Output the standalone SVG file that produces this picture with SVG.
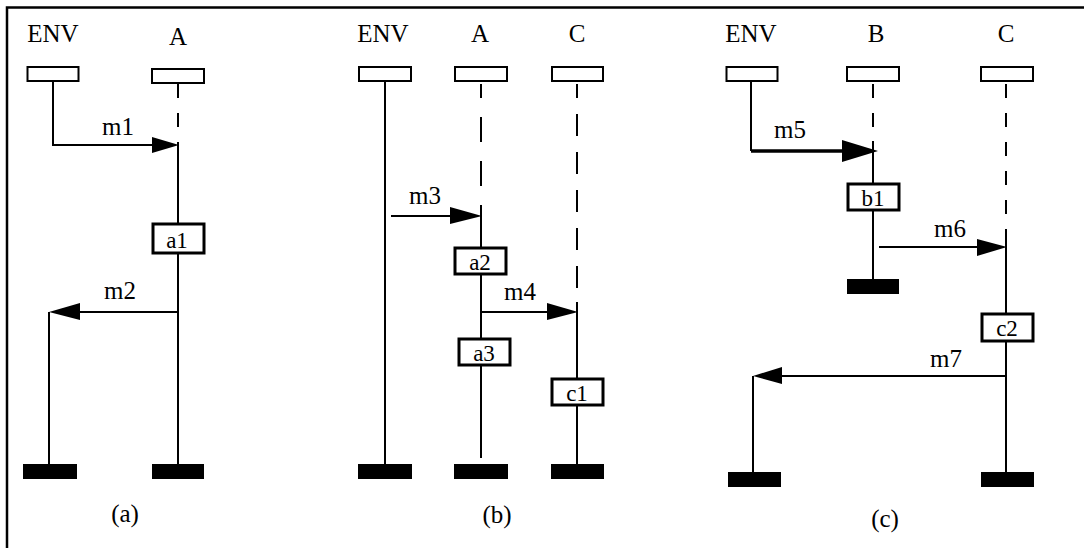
<svg xmlns="http://www.w3.org/2000/svg" width="1084" height="548" viewBox="0 0 1084 548" font-family="Liberation Serif, Times New Roman, serif">
<style>
text{font-size:25px;fill:#000;text-anchor:middle}
.bl{font-size:23px}
.hdr{fill:#fff;stroke:#000;stroke-width:2}
.act{fill:#fff;stroke:#000;stroke-width:3}
.bar{fill:#000;stroke:none}
.ln{fill:none;stroke:#000;stroke-width:2}
.dash{fill:none;stroke:#000;stroke-width:2;stroke-dasharray:14 15}
.thick{fill:none;stroke:#000;stroke-width:3.5}
.head{fill:#000;stroke:none}
.frame{fill:none;stroke:#000;stroke-width:2.5}
</style>
<rect width="1084" height="548" fill="#fff"/>
<path class="frame" d="M7,548 V7.5 H1084"/>

<g id="connectors">
<path class="ln" d="M53,81 V145 H170"/>
<polygon class="head" points="152,137 179,145 152,153"/>
<path class="dash" d="M178,84 V145"/>
<path class="ln" d="M178,145 V223 M178,254 V464"/>
<path class="ln" d="M178,312 H70 M49,312 V464"/>
<polygon class="head" points="49,312 80,303 80,320"/>
<path class="ln" d="M385,81 V464"/>
<path class="dash" d="M481,84 V216" style="stroke-dasharray:25 19;stroke-dashoffset:11"/>
<path class="ln" d="M481,216 V247 M481,274 V338 M481,365 V458"/>
<path class="dash" d="M577,84 V302" style="stroke-dasharray:22 16;stroke-dashoffset:8"/>
<path class="ln" d="M577,302 V378 M577,405 V464"/>
<path class="ln" d="M391,216 H460"/>
<polygon class="head" points="450,207 482,216 450,224"/>
<path class="ln" d="M481,312 H555"/>
<polygon class="head" points="547,303 578,312 547,320"/>
<path class="ln" d="M751,78 V151"/>
<path class="thick" d="M751,151 H850"/>
<polygon class="head" points="842,140 878,151 842,162"/>
<path class="dash" d="M873,84 V141"/>
<path class="ln" d="M873,141 V183 M873,210 V279"/>
<path class="dash" d="M1006,84 V237"/>
<path class="ln" d="M1006,237 V313 M1006,342 V472"/>
<path class="ln" d="M879,247 H985"/>
<polygon class="head" points="977,239 1007,247 977,256"/>
<path class="ln" d="M1006,376 H775 M753,376 V472"/>
<polygon class="head" points="753,376 782,367 782,384"/>
</g>

<g id="diagram-a">
<g id="a-env"><text x="53" y="42">ENV</text><rect class="hdr" x="27.5" y="67" width="51" height="14"/><rect class="bar" x="23" y="464" width="54" height="15"/></g>
<g id="a-A"><text x="178" y="45">A</text><rect class="hdr" x="152" y="69" width="52" height="14"/><rect class="bar" x="152" y="464" width="52" height="15"/></g>
<g id="a-a1"><rect class="act" x="153" y="224" width="51" height="29"/><text class="bl" x="177" y="248">a1</text></g>
<text x="118" y="135">m1</text>
<text x="120" y="299">m2</text>
<text x="125" y="522">(a)</text>
</g>

<g id="diagram-b">
<g id="b-env"><text x="383" y="42">ENV</text><rect class="hdr" x="359" y="67" width="52" height="14"/><rect class="bar" x="358" y="464" width="54" height="15"/></g>
<g id="b-A"><text x="480" y="42">A</text><rect class="hdr" x="455" y="67" width="52" height="14"/><rect class="bar" x="454" y="464" width="54" height="15"/></g>
<g id="b-C"><text x="577" y="42">C</text><rect class="hdr" x="552" y="67" width="51" height="14"/><rect class="bar" x="551" y="464" width="53" height="15"/></g>
<g id="b-a2"><rect class="act" x="455" y="248" width="51" height="26"/><text class="bl" x="480" y="270">a2</text></g>
<g id="b-a3"><rect class="act" x="459" y="339" width="51" height="26"/><text class="bl" x="484" y="361">a3</text></g>
<g id="b-c1"><rect class="act" x="552" y="379" width="51" height="26"/><text class="bl" x="577" y="401">c1</text></g>
<text x="425" y="204">m3</text>
<text x="520" y="300">m4</text>
<text x="497" y="523">(b)</text>
</g>

<g id="diagram-c">
<g id="c-env"><text x="751" y="42">ENV</text><rect class="hdr" x="726.5" y="67" width="51" height="14"/><rect class="bar" x="728" y="472" width="53" height="15"/></g>
<g id="c-B"><text x="876" y="42">B</text><rect class="hdr" x="847" y="67" width="52" height="14"/><rect class="bar" x="847" y="279" width="52" height="15"/></g>
<g id="c-C"><text x="1006" y="42">C</text><rect class="hdr" x="981" y="67" width="52" height="14"/><rect class="bar" x="981" y="472" width="53" height="15"/></g>
<g id="c-b1"><rect class="act" x="848" y="184" width="51" height="26"/><text class="bl" x="873" y="206">b1</text></g>
<g id="c-c2"><rect class="act" x="982" y="314" width="51" height="27"/><text class="bl" x="1007" y="336">c2</text></g>
<text x="790" y="138">m5</text>
<text x="950" y="237">m6</text>
<text x="946" y="367">m7</text>
<text x="885" y="527">(c)</text>
</g>
</svg>
